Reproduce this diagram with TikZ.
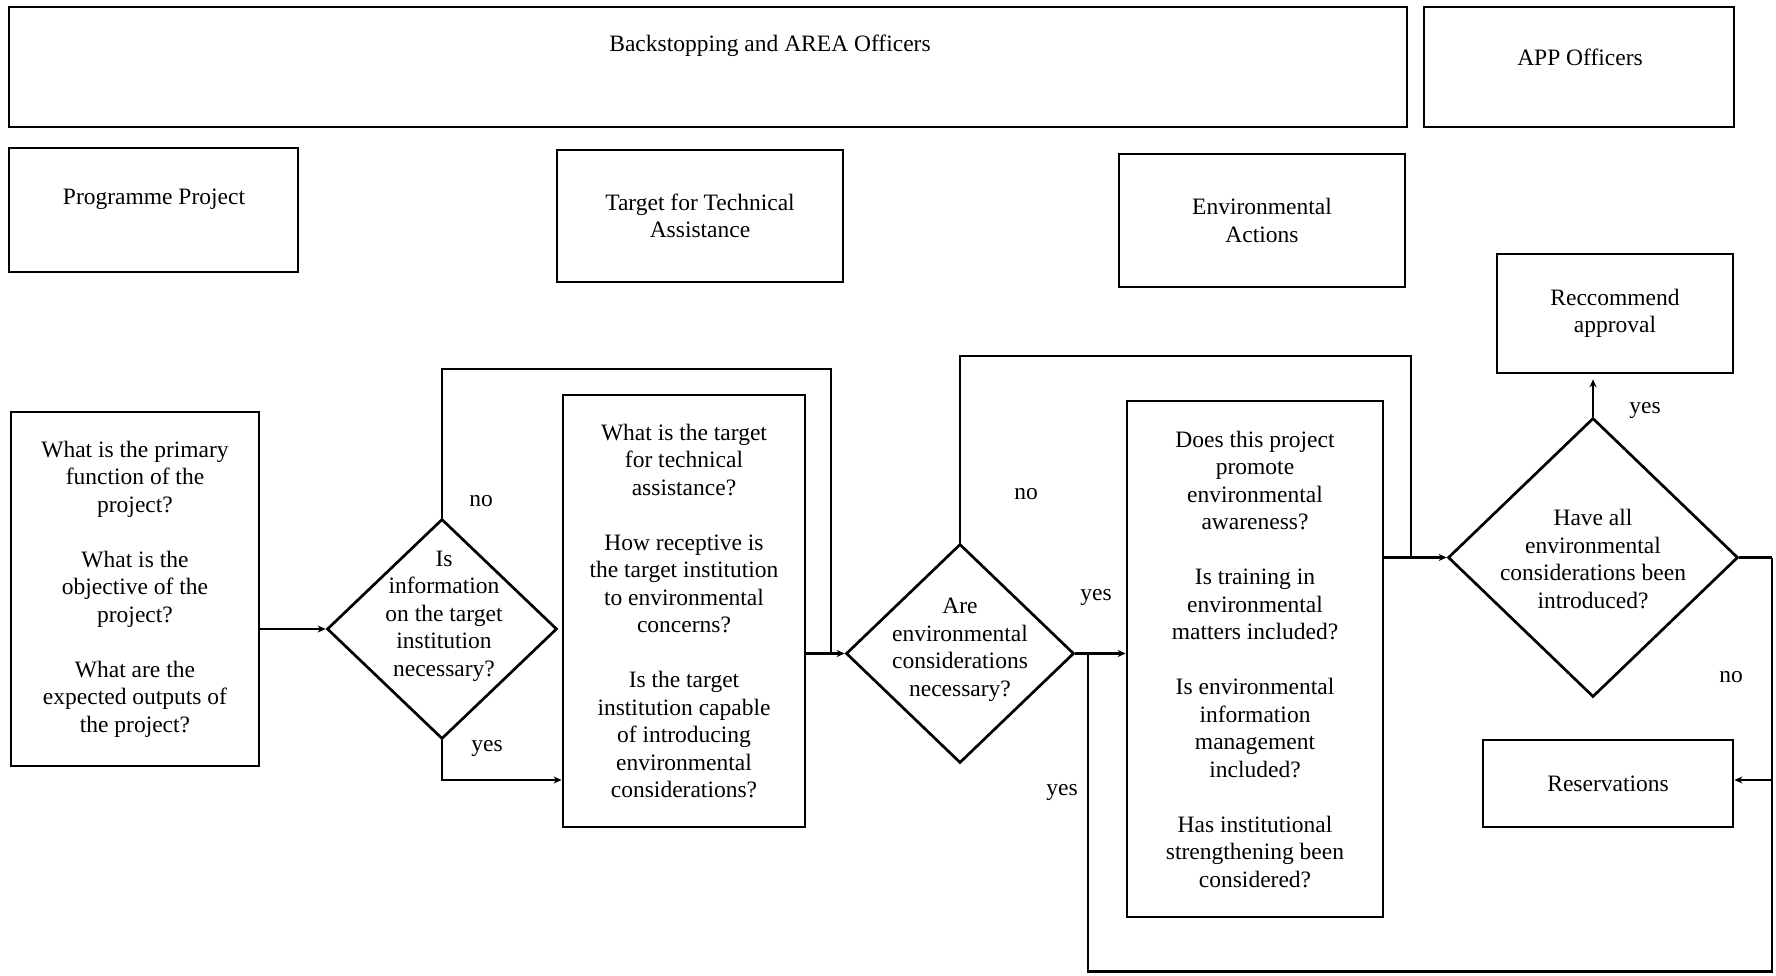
\documentclass[tikz,border=0pt]{standalone}
\usepackage{fontspec}
\setmainfont{Liberation Serif}
\usetikzlibrary{shapes.geometric,arrows.meta}
\begin{document}
\begin{tikzpicture}[x=1pt,y=-1pt,
  every node/.style={font=\fontsize{23.5}{27.5}\selectfont},
  box/.style={draw, line width=2.7pt, inner sep=0pt, align=center},
  dia/.style={draw, diamond, line width=2.7pt, inner sep=0pt},
  txt/.style={align=center, inner sep=0pt},
  ln/.style={line width=2.7pt},
  arr/.style={line width=2.7pt, -{Stealth[length=8pt,width=7pt]}}]
\useasboundingbox (0,0) rectangle (1776,975);
% header boxes
\node[box, minimum width=1398, minimum height=120] (bk) at (708,67) {};
\node[txt] (bkt) at (770,46) {Backstopping and AREA Officers};
\node[box, minimum width=310, minimum height=120] (app) at (1579,67) {};
\node[txt] (appt) at (1580,57) {APP Officers};
\node[box, minimum width=289, minimum height=124] (pp) at (153.5,210) {};
\node[txt] (ppt) at (154,199) {Programme Project};
\node[box, minimum width=286, minimum height=132] (tta) at (700,216) {Target for Technical\\Assistance};
\node[box, minimum width=286, minimum height=133] (ea) at (1262,220.5) {Environmental\\Actions};
\node[box, minimum width=236, minimum height=119] (rec) at (1615,313.5) {Reccommend\\approval};
\node[box, minimum width=250, minimum height=87] (res) at (1608,783.5) {Reservations};
% question boxes
\node[box, minimum width=248, minimum height=354] (q1) at (135,589) {What is the primary\\function of the\\project?\\[27.5pt]What is the\\objective of the\\project?\\[27.5pt]What are the\\expected outputs of\\the project?};
\node[box, minimum width=242, minimum height=432] (q2) at (684,611) {What is the target\\for technical\\assistance?\\[27.5pt]How receptive is\\the target institution\\to environmental\\concerns?\\[27.5pt]Is the target\\institution capable\\of introducing\\environmental\\considerations?};
\node[box, minimum width=256, minimum height=516] (q3) at (1255,659) {Does this project\\promote\\environmental\\awareness?\\[27.5pt]Is training in\\environmental\\matters included?\\[27.5pt]Is environmental\\information\\management\\included?\\[27.5pt]Has institutional\\strengthening been\\considered?};
% diamonds
\node[dia, minimum width=230, minimum height=220] (d1) at (442,629) {};
\node[txt] (d1t) at (444,616) {Is\\information\\on the target\\institution\\necessary?};
\node[dia, minimum width=228, minimum height=219] (d2) at (960,653.5) {};
\node[txt] (d2t) at (960,650) {Are\\environmental\\considerations\\necessary?};
\node[dia, minimum width=290, minimum height=279] (d3) at (1593,557.5) {};
\node[txt] (d3t) at (1593,559) {Have all\\environmental\\considerations been\\introduced?};
% junction coordinates
\coordinate (j1top) at (831,369);
\coordinate (j1) at (831,653.5);
\coordinate (j2top) at (1411,356);
\coordinate (j2) at (1411,557.5);
\coordinate (b1) at (1088,653.5);
\coordinate (b2) at (1772,971.5);
\coordinate (b3) at (1772,557.5);
\coordinate (b4) at (1772,780);
% connectors
\draw[arr] (q1.east |- d1.west) -- (d1.west);
\draw[ln] (d1.north) |- (j1top) -- (j1);
\draw[arr] (d1.south) |- (q2.west |- 0,780);
\draw[arr] (q2.east |- d2.west) -- (d2.west);
\draw[ln] (d2.north) |- (j2top) -- (j2);
\draw[arr] (d2.east) -- (q3.west |- d2.east);
\draw[arr] (q3.east |- d3.west) -- (d3.west);
\draw[arr, shorten >=5pt] (d3.north) -- (d3.north |- rec.south);
\draw[ln] (b1) |- (b2) -- (b3);
\draw[ln] (d3.east) -- (b3);
\draw[arr] (b4) -- (res.east |- b4);
% labels
\node[txt] (l1) at (481,501) {no};
\node[txt] (l2) at (487,748) {yes};
\node[txt] (l3) at (1026,494) {no};
\node[txt] (l4) at (1096,597) {yes};
\node[txt] (l5) at (1062,792) {yes};
\node[txt] (l6) at (1645,410) {yes};
\node[txt] (l7) at (1731,677) {no};
\end{tikzpicture}
\end{document}
